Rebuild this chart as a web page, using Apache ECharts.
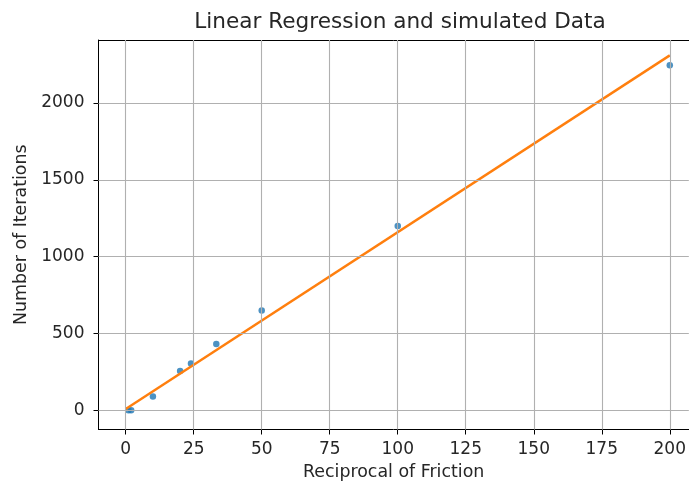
<!DOCTYPE html>
<html>
<head>
<meta charset="utf-8">
<style>
  html, body { margin: 0; padding: 0; background: #ffffff; }
  #chart { width: 689px; height: 486px; }
</style>
<script src="https://cdn.jsdelivr.net/npm/echarts@6/dist/echarts.min.js"></script>
</head>
<body>
<div id="chart"></div>
<script>
// Simulated runs: reciprocal of friction vs. number of iterations
const recipFriction = [1, 2, 10, 20, 24, 33.3, 50, 100, 200];
const iterations    = [2, 1, 91, 256, 306, 432, 651, 1200, 2245];

// Fitted regression line, drawn between its two end points
const fitX = [0, 200];
const fitY = [9, 2310];

// Tick values for both axes
const xTicks = [0, 25, 50, 75, 100, 125, 150, 175, 200];
const yTicks = [0, 500, 1000, 1500, 2000];

const scatterData = recipFriction.map((x, i) => [x, iterations[i]]);
const lineData = fitX.map((x, i) => [x, fitY[i]]);

const FONT = 'DejaVu Sans';
const TEXT = '#262626';
const GRID = '#b0b0b0';
const plain = v => String(v);

const X_MIN = -10, X_MAX = 207;

const chart = echarts.init(document.getElementById('chart'), null, { renderer: 'canvas' });

chart.setOption({
  animation: false,
  backgroundColor: '#ffffff',
  title: {
    text: 'Linear Regression and simulated Data',
    left: 400,
    top: 11,
    padding: 0,
    textAlign: 'center',
    textStyle: { fontFamily: FONT, fontSize: 21.6, fontWeight: 'normal', color: TEXT }
  },
  // the plot area runs past the right edge of the canvas, so the right end is clipped
  grid: { left: 98.5, top: 40, right: 0, height: 389.5, containLabel: false },
  xAxis: [
    {
      type: 'value',
      min: X_MIN,
      max: X_MAX,
      name: 'Reciprocal of Friction',
      nameLocation: 'middle',
      nameGap: 34,
      nameTextStyle: { fontFamily: FONT, fontSize: 17.4, color: TEXT },
      axisLine: { show: true, onZero: false, lineStyle: { color: '#000', width: 1 } },
      axisTick: { show: true, inside: false, length: 5, customValues: xTicks, lineStyle: { color: '#000', width: 1 } },
      axisLabel: { customValues: xTicks, formatter: plain, margin: 12, fontFamily: FONT, fontSize: 17, color: TEXT },
      splitLine: { show: false }
    },
    {
      // top frame line only
      type: 'value',
      position: 'top',
      min: X_MIN,
      max: X_MAX,
      axisLine: { show: true, onZero: false, lineStyle: { color: '#000', width: 1 } },
      axisTick: { show: false },
      axisLabel: { show: false },
      splitLine: { show: false }
    }
  ],
  yAxis: {
    type: 'value',
    min: -124,
    max: 2410,
    name: 'Number of Iterations',
    nameLocation: 'middle',
    nameRotate: 90,
    nameGap: 69,
    nameTextStyle: { fontFamily: FONT, fontSize: 17.4, color: TEXT },
    axisLine: { show: true, onZero: false, lineStyle: { color: '#000', width: 1 } },
    axisTick: { show: true, inside: false, length: 5, customValues: yTicks, lineStyle: { color: '#000', width: 1 } },
    axisLabel: { customValues: yTicks, formatter: plain, margin: 14, fontFamily: FONT, fontSize: 17, color: TEXT },
    splitLine: { show: false }
  },
  series: [
    {
      // grid lines at the tick values
      type: 'line',
      data: [],
      silent: true,
      markLine: {
        silent: true,
        symbol: ['none', 'none'],
        label: { show: false },
        lineStyle: { color: GRID, width: 1.1, type: 'solid' },
        data: xTicks.map(v => ({ xAxis: v })).concat(yTicks.map(v => ({ yAxis: v })))
      },
      z: 1
    },
    {
      name: 'simulated',
      type: 'scatter',
      data: scatterData,
      symbol: 'circle',
      symbolSize: 6.5,
      itemStyle: { color: '#1f77b4' },
      z: 3
    },
    {
      name: 'regression',
      type: 'line',
      data: lineData,
      showSymbol: false,
      symbol: 'none',
      lineStyle: { color: '#ff7f0e', width: 2.4 },
      z: 4
    }
  ]
});
</script>
</body>
</html>
